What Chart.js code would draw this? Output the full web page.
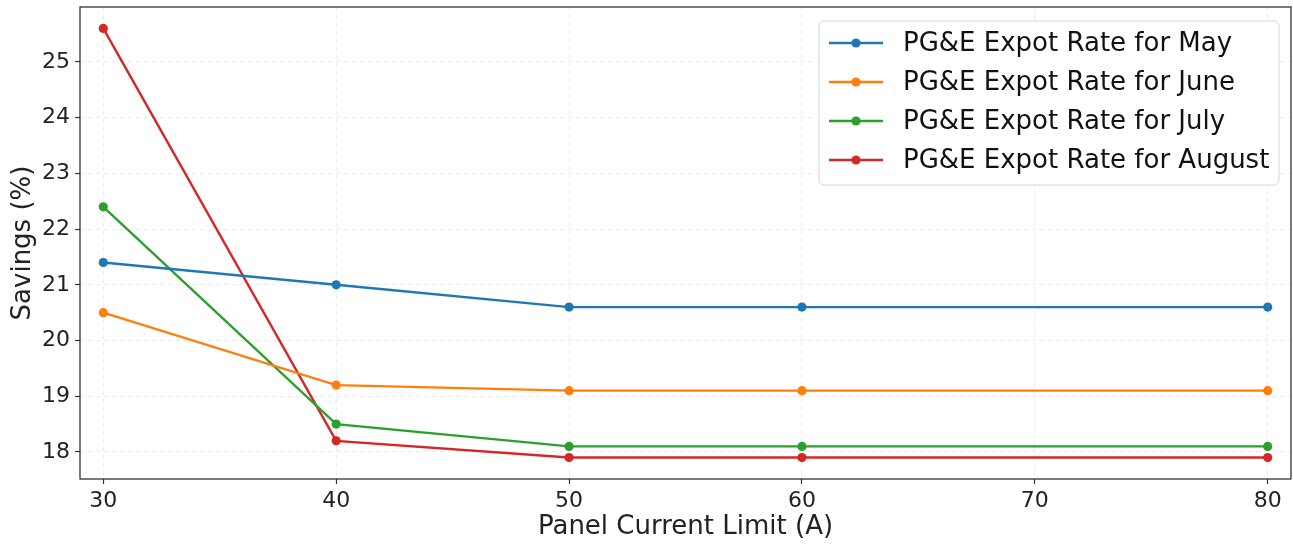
<!DOCTYPE html>
<html>
<head>
<meta charset="utf-8">
<script src="https://cdn.jsdelivr.net/npm/chart.js@4.4.1/dist/chart.umd.min.js"></script>
<style>
  html, body { margin: 0; padding: 0; background: #fff; }
  #wrap { width: 1293px; height: 544px; }
</style>
</head>
<body>
<div id="wrap"><canvas id="chart"></canvas></div>
<script>
// Panel current limit (A) and savings (%) per month
const currentLimits = [30, 40, 50, 60, 80];
const maySavings    = [21.4, 21.0, 20.6, 20.6, 20.6];
const juneSavings   = [20.5, 19.2, 19.1, 19.1, 19.1];
const julySavings   = [22.4, 18.5, 18.1, 18.1, 18.1];
const augustSavings = [25.6, 18.2, 17.9, 17.9, 17.9];

const seriesLabels = [
    'PG&E Expot Rate for May',
    'PG&E Expot Rate for June',
    'PG&E Expot Rate for July',
    'PG&E Expot Rate for August',
];
const xTicks = [30, 40, 50, 60, 70, 80];
const yTicks = [18, 19, 20, 21, 22, 23, 24, 25];

const COLORS = ['#1f77b4', '#ff7f0e', '#2ca02c', '#d62728'];
const FONT = "'DejaVu Sans', sans-serif";

function toPoints(values) {
    return values.map((v, i) => ({ x: currentLimits[i], y: v }));
}

const datasets = [maySavings, juneSavings, julySavings, augustSavings].map((vals, i) => ({
    label: seriesLabels[i],
    data: toPoints(vals),
    borderColor: COLORS[i],
    backgroundColor: COLORS[i],
    borderWidth: 2.4,
    pointRadius: 4.6,
    pointHoverRadius: 4.6,
    pointBorderWidth: 0,
    tension: 0,
}));

// Axes frame on all four sides, drawn over the lines
const framePlugin = {
    id: 'frame',
    afterDatasetsDraw(chart) {
        const { ctx, chartArea: a } = chart;
        ctx.save();
        ctx.strokeStyle = '#333';
        ctx.lineWidth = 1.3;
        ctx.strokeRect(a.left, a.top, a.right - a.left, a.bottom - a.top);
        ctx.restore();
    },
};

// Boxed legend in the upper right corner of the plot
const boxLegendPlugin = {
    id: 'boxLegend',
    afterDraw(chart) {
        const { ctx, chartArea: a } = chart;
        const sets = chart.data.datasets;
        const w = 460, rowH = 39;
        const x = a.right - 12 - w, y = a.top + 14;
        const h = rowH * sets.length + 8;
        ctx.save();
        ctx.beginPath();
        ctx.roundRect(x, y, w, h, 5);
        ctx.fillStyle = 'rgba(255,255,255,0.85)';
        ctx.fill();
        ctx.strokeStyle = '#d6d6d6';
        ctx.lineWidth = 1;
        ctx.stroke();
        ctx.font = '26px ' + FONT;
        ctx.textBaseline = 'middle';
        sets.forEach((ds, i) => {
            const cy = y + 22 + i * rowH;
            ctx.strokeStyle = ds.borderColor;
            ctx.lineWidth = 2.4;
            ctx.beginPath();
            ctx.moveTo(x + 10, cy);
            ctx.lineTo(x + 64, cy);
            ctx.stroke();
            ctx.fillStyle = ds.borderColor;
            ctx.beginPath();
            ctx.arc(x + 37, cy, 4.6, 0, Math.PI * 2);
            ctx.fill();
            ctx.fillStyle = '#111';
            ctx.fillText(ds.label, x + 84, cy + 1);
        });
        ctx.restore();
    },
};

const gridOpts = {
    color: 'rgba(0,0,0,0.1)',
    lineWidth: 0.8,
    tickColor: '#333',
    tickLength: 5,
    tickWidth: 1.2,
    tickBorderDash: [],
};

new Chart(document.getElementById('chart'), {
    type: 'line',
    data: { datasets },
    plugins: [framePlugin, boxLegendPlugin],
    options: {
        responsive: true,
        maintainAspectRatio: false,
        animation: false,
        events: [],
        layout: { autoPadding: false, padding: { left: 0, right: 2, top: 7, bottom: 0 } },
        plugins: { legend: { display: false }, tooltip: { enabled: false } },
        scales: {
            x: {
                type: 'linear',
                min: 29,
                max: 81,
                afterBuildTicks: (s) => { s.ticks = xTicks.map(v => ({ value: v })); },
                afterFit: (s) => { s.height = 65; s.paddingLeft = 0; s.paddingRight = 0; },
                grid: gridOpts,
                border: { display: false, dash: [4, 4] },
                ticks: { color: '#222', padding: 4, font: { family: FONT, size: 22 } },
                title: {
                    display: true,
                    text: 'Panel Current Limit (A)',
                    color: '#222',
                    font: { family: FONT, size: 26 },
                    padding: { top: 0, bottom: 1 },
                },
            },
            y: {
                type: 'linear',
                min: 17.515,
                max: 25.985,
                afterBuildTicks: (s) => { s.ticks = yTicks.map(v => ({ value: v })); },
                afterFit: (s) => { s.width = 80; s.paddingTop = 0; s.paddingBottom = 0; },
                grid: gridOpts,
                border: { display: false, dash: [4, 4] },
                ticks: { color: '#222', padding: 5, font: { family: FONT, size: 22 } },
                title: {
                    display: true,
                    text: 'Savings (%)',
                    color: '#222',
                    font: { family: FONT, size: 26 },
                    padding: { top: 8, bottom: 0 },
                },
            },
        },
    },
});
</script>
</body>
</html>
